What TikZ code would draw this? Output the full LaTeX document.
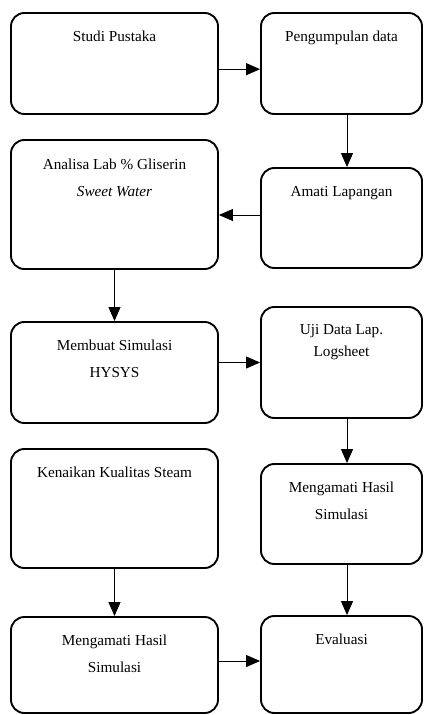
\documentclass[tikz,border=0pt]{standalone}
\usepackage{fontspec}
\setmainfont{Liberation Serif}
\usetikzlibrary{positioning, arrows.meta}

\begin{document}
\begin{tikzpicture}[box/.style={draw, rounded corners=0.4cm, line width=1.6pt, inner sep=0pt},lbox/.style={box, minimum width=6.21cm},rbox/.style={box, minimum width=4.83cm},txt/.style={align=center, inner sep=0pt, font=\fontsize{13}{23}\selectfont},arr/.style={-{Triangle[length=0.42cm, width=0.36cm]}, line width=0.8pt}]
  \useasboundingbox (0,0) rectangle (12.69,-21.45);

  \node[lbox, minimum height=3.03cm] (pustaka) at (3.435,-1.905) {};
  \node[rbox, minimum height=3.03cm] (kumpul) at (10.245,-1.905) {};
  \node[lbox, minimum height=3.87cm] (analisa) at (3.435,-6.135) {};
  \node[rbox, minimum height=3.0cm] (amati) at (10.245,-6.54) {};
  \node[lbox, minimum height=3.03cm] (simulasi) at (3.435,-11.175) {};
  \node[rbox, minimum height=3.33cm] (uji) at (10.245,-10.875) {};
  \node[lbox, minimum height=3.57cm] (kenaikan) at (3.435,-15.255) {};
  \node[rbox, minimum height=3.0cm] (hasilR) at (10.245,-15.42) {};
  \node[lbox, minimum height=2.88cm] (hasilL) at (3.435,-19.95) {};
  \node[rbox, minimum height=2.91cm] (evaluasi) at (10.245,-19.935) {};

  \node[txt, below=0.55cm of pustaka.north] (pustaka-t) {Studi Pustaka};
  \node[txt, below=0.55cm of kumpul.north] (kumpul-t) {Pengumpulan data};
  \node[txt, below=0.6cm of analisa.north] (analisa-t) {Analisa Lab \% Gliserin\\\textit{Sweet Water}};
  \node[txt, below=0.58cm of amati.north] (amati-t) {Amati Lapangan};
  \node[txt, below=0.55cm of simulasi.north] (simulasi-t) {Membuat Simulasi\\HYSYS};
  \node[txt, below=0.55cm of uji.north, font=\fontsize{13}{19}\selectfont] (uji-t) {Uji Data Lap.\\Logsheet};
  \node[txt, below=0.55cm of kenaikan.north] (kenaikan-t) {Kenaikan Kualitas Steam};
  \node[txt, below=0.55cm of hasilR.north] (hasilR-t) {Mengamati Hasil\\Simulasi};
  \node[txt, below=0.55cm of hasilL.north] (hasilL-t) {Mengamati Hasil\\Simulasi};
  \node[txt, below=0.55cm of evaluasi.north] (evaluasi-t) {Evaluasi};

  \draw[arr] ([yshift=-0.17cm]pustaka.east) -- ([yshift=-0.17cm]kumpul.west);
  \draw[arr] ([xshift=0.165cm]kumpul.south) -- ([xshift=0.165cm]amati.north);
  \draw[arr] ([yshift=0.09cm]amati.west) -- ([yshift=0.09cm]amati.west -| analisa.east);
  \draw[arr] (analisa.south) -- (simulasi.north);
  \draw[arr] (simulasi.east |- uji.west) -- (uji.west);
  \draw[arr] ([xshift=0.165cm]uji.south) -- ([xshift=0.165cm]hasilR.north);
  \draw[arr] (kenaikan.south) -- (hasilL.north);
  \draw[arr] ([xshift=0.165cm]hasilR.south) -- ([xshift=0.165cm]evaluasi.north);
  \draw[arr] ([yshift=0.12cm]hasilL.east) -- ([yshift=0.12cm]hasilL.east -| evaluasi.west);
 \end{tikzpicture}
\end{document}
